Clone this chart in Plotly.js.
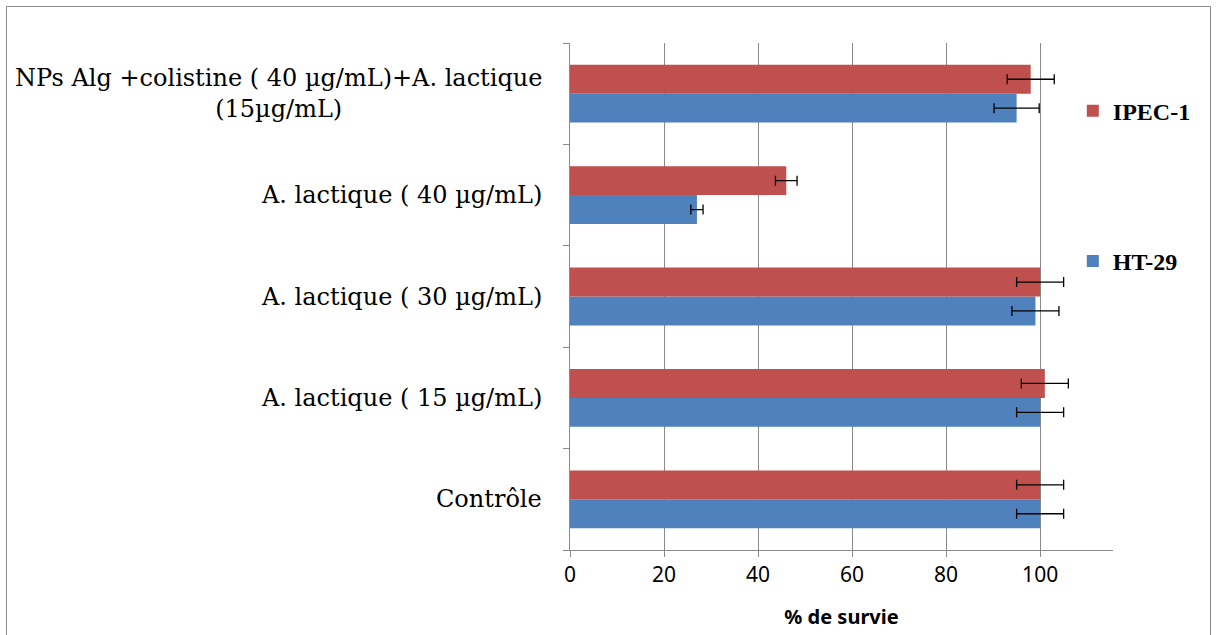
<!DOCTYPE html>
<html>
<head>
<meta charset="utf-8">
<script src="https://cdn.plot.ly/plotly-3.0.1.min.js"></script>
<style>
html,body{margin:0;padding:0;background:#fff;}
#chart{width:1217px;height:635px;}
</style>
</head>
<body>
<div id="chart"></div>
<script>
const categories = [
  "Contrôle",
  "A. lactique ( 15 µg/mL)",
  "A. lactique ( 30 µg/mL)",
  "A. lactique ( 40 µg/mL)",
  "NPs Alg +colistine ( 40 µg/mL)+A. lactique<br>(15µg/mL)"
];
const ht29Values = [100, 100, 99, 27, 95];
const ht29Errors = [5, 5, 5, 1.3, 4.8];
const ipecValues = [100, 101, 100, 46, 98];
const ipecErrors = [5, 5, 5, 2.3, 5];
const xTicks = [0, 20, 40, 60, 80, 100];

const serif = "DejaVu Serif, serif";
const sans = "Noto Sans, Open Sans, sans-serif";

const traces = [
  {
    type: "bar", orientation: "h", name: "HT-29", legendgroup: "b", legendrank: 2,
    y: categories, x: ht29Values,
    marker: {color: "#4F81BD", line: {color: "#4F81BD", width: 0}},
    error_x: {type: "data", array: ht29Errors, visible: true, color: "#000", thickness: 1.3, width: 5}
  },
  {
    type: "bar", orientation: "h", name: "IPEC-1", legendgroup: "a", legendrank: 1,
    y: categories, x: ipecValues,
    marker: {color: "#C0504D", line: {color: "#C0504D", width: 0}},
    error_x: {type: "data", array: ipecErrors, visible: true, color: "#000", thickness: 1.3, width: 5}
  }
];

const annotations = categories.map(c => ({
  xref: "paper", yref: "y", x: -0.048, y: c, text: c,
  xanchor: "right", yanchor: "middle", align: "center", showarrow: false,
  font: {family: serif, size: 24, color: "#000"}
}));

const layout = {
  width: 1217, height: 635,
  margin: {l: 570, r: 104, t: 43, b: 85},
  paper_bgcolor: "#fff", plot_bgcolor: "#fff",
  barmode: "group", bargap: 0.43, bargroupgap: 0,
  showlegend: true,
  legend: {
    x: 0.926, xanchor: "left", y: 0.91, yanchor: "top",
    traceorder: "grouped", tracegroupgap: 116,
    font: {family: "Liberation Serif, serif", size: 24, color: "#000", weight: "bold"},
    bgcolor: "rgba(0,0,0,0)", itemwidth: 30
  },
  xaxis: {
    range: [0, 115.5], tickvals: xTicks, ticktext: xTicks.map(String),
    showgrid: true, gridcolor: "#8a8a8a", gridwidth: 1,
    zeroline: false, showline: true, linecolor: "#8a8a8a", linewidth: 1,
    ticks: "outside", ticklen: 6, tickcolor: "#8a8a8a",
    tickfont: {family: sans, size: 21, color: "#000"},
    title: {text: "% de survie", font: {family: sans, size: 20, color: "#000", weight: "bold"}, standoff: 22}
  },
  yaxis: {
    type: "category", categoryorder: "array", categoryarray: categories,
    showticklabels: false, showgrid: false, zeroline: false,
    showline: true, linecolor: "#8a8a8a", linewidth: 1,
    ticks: "outside", ticklen: 6, tickcolor: "#8a8a8a", tickson: "boundaries"
  },
  annotations: annotations,
  shapes: [{
    type: "rect", xref: "paper", yref: "paper",
    x0: (6.5 - 570) / 543, x1: (1210.5 - 570) / 543,
    y0: -0.2, y1: (550 - 6.5) / 507,
    line: {color: "#8a8a8a", width: 1}, fillcolor: "rgba(0,0,0,0)"
  }]
};

Plotly.newPlot("chart", traces, layout, {displayModeBar: false, staticPlot: true});
</script>
</body>
</html>
